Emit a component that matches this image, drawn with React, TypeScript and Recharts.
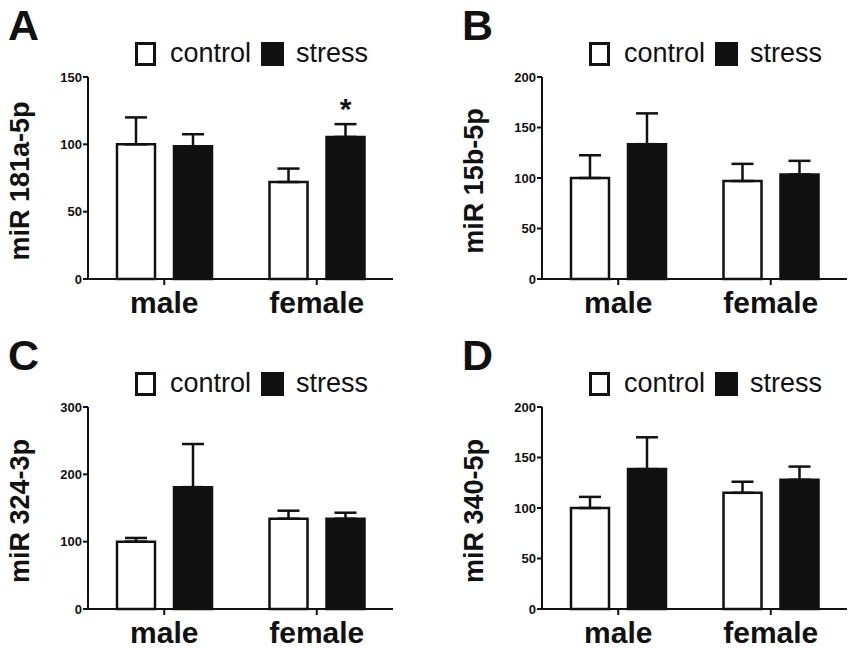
import { Bar, BarChart, ErrorBar, LabelList, Legend, XAxis, YAxis } from 'recharts'

const font = '"Liberation Sans", Arial, Helvetica, sans-serif'
const ink = '#111'

const groups = ['male', 'female']

// A: miR 181a-5p
const aControl = [100, 72]
const aControlErr = [20, 10]
const aStress = [98.5, 105.5]
const aStressErr = [9, 9.5]
const aSig = ['', '*']
const aTicks = [0, 50, 100, 150]

// B: miR 15b-5p
const bControl = [100, 97]
const bControlErr = [22.5, 17]
const bStress = [133.5, 103.5]
const bStressErr = [30.5, 13.5]
const bTicks = [0, 50, 100, 150, 200]

// C: miR 324-3p
const cControl = [100, 134]
const cControlErr = [5.5, 12]
const cStress = [181, 134]
const cStressErr = [64, 9]
const cTicks = [0, 100, 200, 300]

// D: miR 340-5p
const dControl = [100, 115]
const dControlErr = [11, 11]
const dStress = [138.5, 128]
const dStressErr = [31.5, 13]
const dTicks = [0, 50, 100, 150, 200]

const noSig = ['', '']

function rows(control: number[], controlErr: number[], stress: number[], stressErr: number[], sig: string[]) {
  return groups.map((g, i) => ({
    group: g,
    control: control[i],
    stress: stress[i],
    // error bars only point up
    controlErr: [0, controlErr[i]],
    stressErr: [0, stressErr[i]],
    sig: sig[i],
  }))
}

function LegendBoxes() {
  const text = { fontFamily: font, fontSize: 27, lineHeight: 1, color: ink }
  const box = { width: 15, height: 18, border: `3px solid ${ink}`, marginTop: 2 }
  return (
    <div style={{ display: 'flex', alignItems: 'flex-start', whiteSpace: 'nowrap' }}>
      <div style={{ ...box, background: '#fff' }} />
      <span style={{ ...text, marginLeft: 14 }}>control</span>
      <div style={{ ...box, width: 17, background: ink, marginLeft: 10 }} />
      <span style={{ ...text, marginLeft: 12 }}>stress</span>
    </div>
  )
}

function YTitle(props: any) {
  const vb = props.viewBox
  const cx = vb.x + 29
  const cy = vb.y + vb.height / 2 + 3
  return (
    <text
      x={cx}
      y={cy}
      transform={`rotate(-90 ${cx} ${cy})`}
      textAnchor="middle"
      fill={ink}
      style={{ fontFamily: font, fontSize: 27, fontWeight: 700 }}
    >
      {props.text}
    </text>
  )
}

function Asterisk(props: any) {
  if (!props.value) return null
  const vb = props.viewBox || props
  return (
    <text
      x={vb.x + vb.width / 2}
      y={vb.y - 18}
      textAnchor="middle"
      fill={ink}
      style={{ fontFamily: font, fontSize: 30, fontWeight: 700 }}
    >
      {props.value}
    </text>
  )
}

function Panel({ letter, label, data, ticks, left, top }: any) {
  return (
    <div style={{ position: 'absolute', left, top, width: 395, height: 320 }}>
      <div
        style={{
          position: 'absolute',
          left: 8,
          top: 4,
          fontFamily: font,
          fontWeight: 700,
          fontSize: 43,
          lineHeight: 1,
          color: ink,
        }}
      >
        {letter}
      </div>
      <BarChart
        width={395}
        height={320}
        data={data}
        margin={{ top: 77, right: 2, bottom: 0, left: 0 }}
        barCategoryGap={29}
        barGap={19}
      >
        <Legend
          layout="horizontal"
          verticalAlign="middle"
          align="center"
          content={LegendBoxes}
          wrapperStyle={{ top: 40, left: 135, width: 'auto', height: 'auto' }}
        />
        <XAxis
          dataKey="group"
          height={41}
          tick={{ fill: ink, fontSize: 30, fontWeight: 700, fontFamily: font }}
          tickSize={6}
          tickMargin={7}
          axisLine={{ stroke: ink, strokeWidth: 2 }}
          tickLine={{ stroke: ink, strokeWidth: 2 }}
        />
        <YAxis
          width={88}
          domain={[0, ticks[ticks.length - 1]]}
          ticks={ticks}
          interval={0}
          tick={{ fill: ink, fontSize: 13, fontWeight: 700, fontFamily: font }}
          tickSize={5}
          tickMargin={1}
          axisLine={{ stroke: ink, strokeWidth: 2 }}
          tickLine={{ stroke: ink, strokeWidth: 2 }}
          label={<YTitle text={label} />}
        />
        <Bar dataKey="control" fill="#fff" stroke={ink} strokeWidth={2.5} isAnimationActive={false}>
          <ErrorBar dataKey="controlErr" direction="y" width={11} stroke={ink} strokeWidth={2.5} />
        </Bar>
        <Bar dataKey="stress" fill={ink} stroke={ink} strokeWidth={2.5} isAnimationActive={false}>
          <ErrorBar dataKey="stressErr" direction="y" width={11} stroke={ink} strokeWidth={2.5} />
          <LabelList dataKey="sig" content={Asterisk} />
        </Bar>
      </BarChart>
    </div>
  )
}

export default function App() {
  return (
    <div
      style={{
        position: 'absolute',
        left: 0,
        top: 0,
        width: 849,
        height: 649,
        background: '#fff',
        overflow: 'hidden',
      }}
    >
      <Panel letter="A" label="miR 181a-5p" ticks={aTicks} left={0} top={0}
        data={rows(aControl, aControlErr, aStress, aStressErr, aSig)} />
      <Panel letter="B" label="miR 15b-5p" ticks={bTicks} left={454} top={0}
        data={rows(bControl, bControlErr, bStress, bStressErr, noSig)} />
      <Panel letter="C" label="miR 324-3p" ticks={cTicks} left={0} top={330}
        data={rows(cControl, cControlErr, cStress, cStressErr, noSig)} />
      <Panel letter="D" label="miR 340-5p" ticks={dTicks} left={454} top={330}
        data={rows(dControl, dControlErr, dStress, dStressErr, noSig)} />
    </div>
  )
}
